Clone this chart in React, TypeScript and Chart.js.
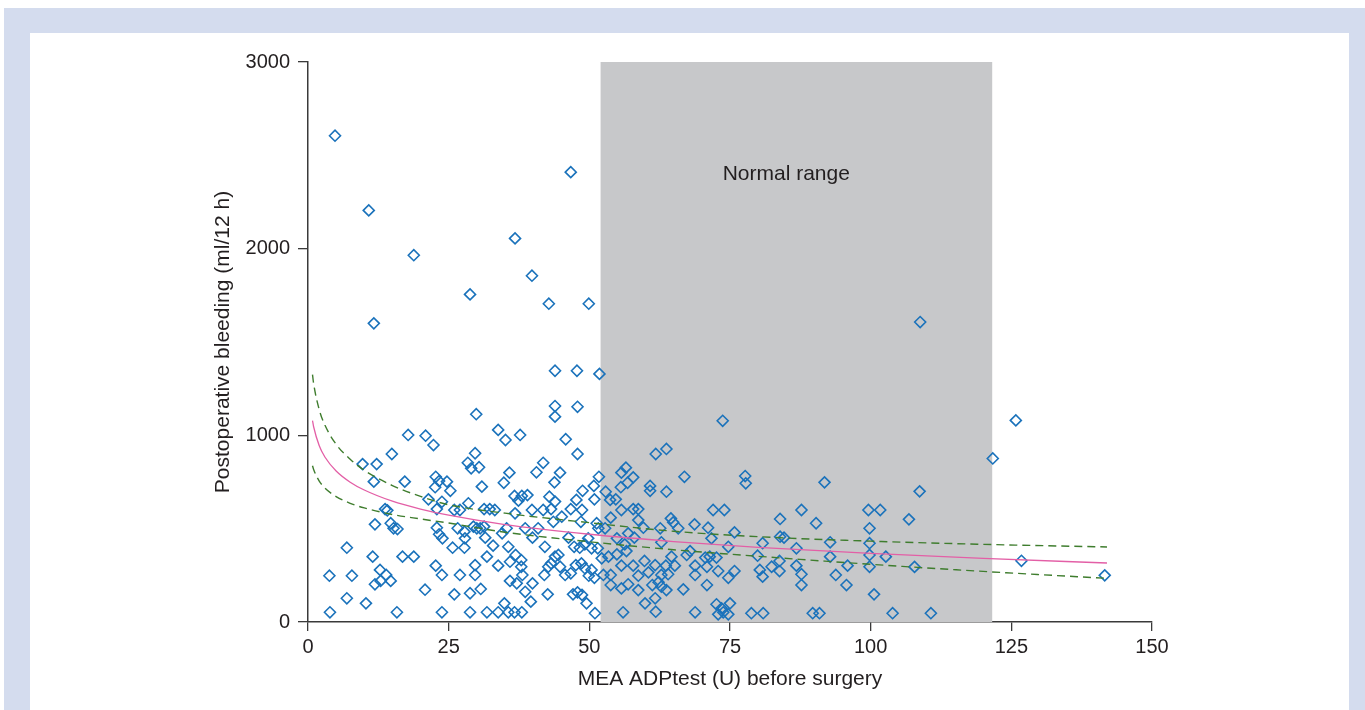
import React, { useEffect, useRef } from "react";
import { Chart, registerables } from "chart.js";

Chart.register(...registerables);

// ---- Data -------------------------------------------------------------
const xTicks = [0, 25, 50, 75, 100, 125, 150];
const yTicks = [0, 1000, 2000, 3000];
const xTitle = "MEA ADPtest (U) before surgery";
const yTitle = "Postoperative bleeding (ml/12 h)";
const normalRange = [52, 121.6];
const normalLabel = "Normal range";
const normalLabelAt = [85, 2400];

// [ADPtest (U), bleeding (ml/12 h)]
const highBleeders: [number, number][] = [
  [4.8, 2605], [10.8, 2205], [18.8, 1965], [11.7, 1600], [28.8, 1755], [36.8, 2055],
  [39.8, 1855], [46.7, 2410], [42.8, 1705], [49.9, 1705], [43.9, 1346], [47.8, 1346],
  [51.8, 1329], [43.9, 1157], [43.9, 1100], [47.9, 1153], [108.8, 1607], [73.7, 1078],
  [125.8, 1080], [121.7, 876], [108.7, 700], [106.8, 550], [107.8, 295], [110.7, 47],
  [126.8, 328], [141.6, 250],
];

const lowAdpA: [number, number][] = [
  [17.8, 1002], [20.9, 998], [22.3, 948], [14.9, 900], [9.7, 846], [12.2, 846],
  [11.7, 752], [17.2, 752], [22.7, 778], [23.3, 755], [22.6, 722], [24.7, 752],
  [21.4, 657], [23.8, 644],
  [13.7, 605], [14.1, 598], [22.9, 605], [11.9, 523], [14.7, 529], [15.2, 502],
  [15.9, 498], [6.9, 398], [11.5, 350], [16.8, 350], [18.8, 350], [22.9, 505],
  [23.3, 470], [23.9, 448], [25.7, 398], [3.8, 248], [7.8, 248], [12.8, 279],
  [13.9, 252], [11.9, 202], [12.9, 220], [14.7, 220], [22.7, 302], [23.8, 252],
  [20.8, 173], [6.9, 127], [10.3, 100], [3.9, 52], [15.8, 52], [23.8, 52],
];

const lowAdpB: [number, number][] = [
  [29.9, 1113], [33.8, 1029], [35.1, 975], [37.7, 1002], [45.8, 979], [47.9, 900],
  [29.7, 904], [28.4, 853], [29, 823], [30.4, 829], [41.8, 853], [40.6, 802],
  [44.8, 800], [43.8, 748], [35.8, 800], [34.8, 746], [30.9, 725], [25.3, 703],
  [51.7, 778], [50.8, 729], [48.8, 703], [42.9, 671], [47.7, 654], [50.9, 657],
  [36.7, 675], [38, 675], [39, 680], [37.4, 650], [28.5, 636], [43.9, 645],
];

const lowAdpC: [number, number][] = [
  [26, 600], [27, 600], [31.3, 605], [32.3, 605], [33.2, 600], [36.8, 582],
  [39.8, 600], [41.8, 600], [43.2, 605], [46.7, 605], [48.7, 600],
  [26.6, 502], [29.4, 511], [30, 502], [30.6, 502], [31.3, 511], [27.8, 484],
  [27.9, 448], [27.8, 398], [31.5, 452], [32.9, 409], [34.5, 475], [35.3, 502],
  [35.6, 403], [36.9, 359], [37.9, 332], [31.8, 350], [29.7, 305], [33.8, 302],
  [27, 252], [29.7, 252], [35.9, 323], [37.9, 296], [38.1, 252], [37.1, 207],
  [35.9, 220], [39.9, 207], [38.6, 162], [39.6, 109], [26, 148], [28.8, 154],
  [30.7, 177], [28.8, 52], [31.8, 52], [33.8, 52], [35.6, 52], [36.7, 52],
  [38, 52], [34.9, 100], [42.6, 148], [42, 252], [42.7, 296], [43.2, 314],
  [43.9, 350], [44.5, 359], [44.8, 296], [42.1, 403], [45.7, 252], [46.7, 261],
  [47.6, 305], [48.6, 314], [49.2, 288], [49.9, 248], [50.4, 279], [50.9, 237],
  [47.1, 148], [47.9, 159], [48.7, 145], [49.5, 100], [51, 47], [47.3, 403],
  [48.3, 398], [49.2, 416], [50.4, 395], [51.5, 395], [49.8, 448], [46.3, 452],
  [40.9, 502], [39.9, 452], [38.6, 502], [45.1, 564], [43.6, 537], [48.5, 537],
  [51.3, 529], [51.6, 502],
];

const midAdp: [number, number][] = [
  [61.8, 900], [63.7, 927], [56.5, 827], [55.7, 800], [57.8, 775], [56.8, 746],
  [55.6, 722], [66.9, 778], [60.8, 729], [60.8, 703], [63.7, 698], [77.7, 782],
  [77.8, 743], [52.9, 698], [53.7, 654], [54.7, 657],
  [55.7, 600], [57.8, 605], [58.7, 605], [72, 600], [74, 600], [53.8, 559],
  [58.7, 546], [64.5, 555], [64.9, 534], [68.7, 523], [71.1, 505], [52.8, 502],
  [59.6, 505], [62.6, 502], [65.8, 502], [75.8, 480], [56.9, 475], [58, 452],
  [54.9, 448], [71.7, 448], [62.8, 427], [56.3, 416], [56.6, 380], [74.7, 403],
  [67.9, 380], [53.4, 350], [54.9, 362], [52.2, 341], [67.3, 359], [70.6, 345],
  [71.4, 350], [72.6, 345], [64.6, 350], [59.8, 327], [55.7, 302], [57.8, 302],
  [61.7, 305], [63.6, 302], [65.2, 302], [68.8, 302], [70.9, 296], [72.9, 273],
  [52.5, 252], [53.8, 252], [58.7, 248], [60.5, 266], [62.8, 252], [64, 256],
  [68.8, 252], [75.8, 273], [74.7, 237], [53.8, 198], [55.7, 180], [56.9, 202],
  [58.7, 171], [61.2, 198], [62.3, 213], [62.8, 189], [63.7, 171], [66.7, 175],
  [70.9, 198], [59.9, 100], [61.7, 127], [56, 52], [61.8, 55], [68.8, 52],
  [72.6, 95], [73.5, 73], [73.8, 52], [75, 100], [72.9, 41], [74.7, 41], [78.8, 47],
];

const highAdp: [number, number][] = [
  [91.8, 748], [87.7, 600], [99.6, 600], [101.7, 600], [83.9, 552], [90.3, 529],
  [99.8, 502], [83.9, 457], [84.6, 452], [80.8, 422], [92.8, 427], [99.8, 422],
  [86.8, 395], [79.9, 355], [92.8, 350], [99.8, 359], [102.7, 350], [83.8, 327],
  [82.4, 296], [80.3, 279], [80.8, 243], [83.8, 273], [86.8, 302], [87.7, 256],
  [87.7, 198], [95.9, 302], [93.8, 252], [95.7, 198], [99.8, 296], [100.6, 148],
  [80.9, 47], [89.7, 47], [90.9, 47], [103.9, 47],
];

// Regression curve and 95% band
const fitX = [0.8, 1, 2, 3, 5, 7.5, 10, 15, 20, 25, 35, 50, 65, 80, 100, 120, 142];
const fitY = [1079, 1046, 944, 884, 809, 749, 707, 647, 605, 572, 522, 470, 431, 400, 368, 341, 316];
const upperY = [1325, 1277, 1137, 1055, 952, 872, 813, 731, 673, 628, 583, 532, 486, 457, 433, 416, 402];
const lowerY = [837, 817, 755, 718, 672, 636, 611, 576, 552, 530, 481, 430, 387, 352, 309, 271, 234];

// ---- Styles -----------------------------------------------------------
const FONT = "'Liberation Sans', Arial, Helvetica, sans-serif";
const AXIS_COLOR = "#3a3a3a";
const TEXT_COLOR = "#231f20";
const POINT_COLOR = "#1a72bb";
const FIT_COLOR = "#e35fa6";
const BAND_COLOR = "#3f7d2e";
const RANGE_FILL = "#c7c8ca";

const toXY = (xs: number[], ys: number[]) => xs.map((x, i) => ({ x, y: ys[i] }));

const rangePlugin = {
  id: "normalRange",
  beforeDatasetsDraw(chart: any) {
    const { ctx, chartArea, scales } = chart;
    const x0 = scales.x.getPixelForValue(normalRange[0]);
    const x1 = scales.x.getPixelForValue(normalRange[1]);
    ctx.save();
    ctx.fillStyle = RANGE_FILL;
    ctx.fillRect(x0, chartArea.top, x1 - x0, chartArea.bottom - chartArea.top);
    ctx.fillStyle = TEXT_COLOR;
    ctx.font = `21px ${FONT}`;
    ctx.textAlign = "center";
    ctx.textBaseline = "middle";
    ctx.fillText(
      normalLabel,
      scales.x.getPixelForValue(normalLabelAt[0]),
      scales.y.getPixelForValue(normalLabelAt[1])
    );
    ctx.restore();
  },
};

export default function App() {
  const canvasRef = useRef<HTMLCanvasElement | null>(null);

  useEffect(() => {
    if (!canvasRef.current) return;
    const points = [...highBleeders, ...lowAdpA, ...lowAdpB, ...lowAdpC, ...midAdp, ...highAdp].map(
      ([x, y]) => ({ x, y })
    );
    const lineCommon = {
      type: "line" as const,
      showLine: true,
      pointRadius: 0,
      fill: false,
      cubicInterpolationMode: "monotone" as const,
    };
    const chart = new Chart(canvasRef.current, {
      type: "scatter",
      data: {
        datasets: [
          {
            ...lineCommon,
            data: toXY(fitX, upperY),
            borderColor: BAND_COLOR,
            borderWidth: 1.4,
            borderDash: [8, 5],
          },
          {
            ...lineCommon,
            data: toXY(fitX, lowerY),
            borderColor: BAND_COLOR,
            borderWidth: 1.4,
            borderDash: [8, 5],
          },
          {
            ...lineCommon,
            data: toXY(fitX, fitY),
            borderColor: FIT_COLOR,
            borderWidth: 1.3,
          },
          {
            type: "scatter",
            data: points,
            pointStyle: "rectRot",
            pointRadius: 5.5,
            pointBorderWidth: 1.6,
            pointBorderColor: POINT_COLOR,
            pointBackgroundColor: "rgba(0,0,0,0)",
          },
        ] as any,
      },
      options: {
        animation: false,
        responsive: false,
        devicePixelRatio: 1,
        layout: { padding: { left: 206.6, top: 62, right: 213, bottom: 14 } },
        plugins: { legend: { display: false }, tooltip: { enabled: false } },
        scales: {
          x: {
            type: "linear",
            min: 0,
            max: 150,
            afterBuildTicks: (s: any) => {
              s.ticks = xTicks.map((v) => ({ value: v }));
            },
            afterFit: (s: any) => {
              s.height = 74;
            },
            border: { display: true, color: AXIS_COLOR, width: 1.5 },
            grid: { display: true, drawOnChartArea: false, drawTicks: true, tickLength: 9, color: AXIS_COLOR, lineWidth: 1.3 },
            ticks: { color: TEXT_COLOR, font: { family: FONT, size: 20 }, padding: 4, maxRotation: 0, callback: (v: any) => String(v) },
            title: { display: true, text: xTitle, color: TEXT_COLOR, font: { family: FONT, size: 21 }, padding: { top: 0, bottom: 4 } },
          },
          y: {
            type: "linear",
            min: 0,
            max: 3000,
            afterBuildTicks: (s: any) => {
              s.ticks = yTicks.map((v) => ({ value: v }));
            },
            afterFit: (s: any) => {
              s.width = 101.4;
            },
            border: { display: true, color: AXIS_COLOR, width: 1.5 },
            grid: { display: true, drawOnChartArea: false, drawTicks: true, tickLength: 10, color: AXIS_COLOR, lineWidth: 1.3 },
            ticks: { color: TEXT_COLOR, font: { family: FONT, size: 20 }, padding: 8, callback: (v: any) => String(v) },
            title: { display: true, text: yTitle, color: TEXT_COLOR, font: { family: FONT, size: 21 }, padding: { top: 4, bottom: 0 } },
          },
        },
      },
      plugins: [rangePlugin],
    } as any);
    return () => chart.destroy();
  }, []);

  return (
    <div style={{ position: "absolute", left: 0, top: 0, width: 1365, height: 710, overflow: "hidden", background: "#fff" }}>
      <div style={{ position: "absolute", left: 4, top: 8, right: 0, bottom: 0, background: "#d4dcee" }} />
      <div style={{ position: "absolute", left: 30, top: 33, width: 1319, bottom: 0, background: "#fff" }} />
      <canvas
        ref={canvasRef}
        width={1365}
        height={710}
        style={{ position: "absolute", left: 0, top: 0, width: 1365, height: 710, display: "block" }}
      />
    </div>
  );
}
